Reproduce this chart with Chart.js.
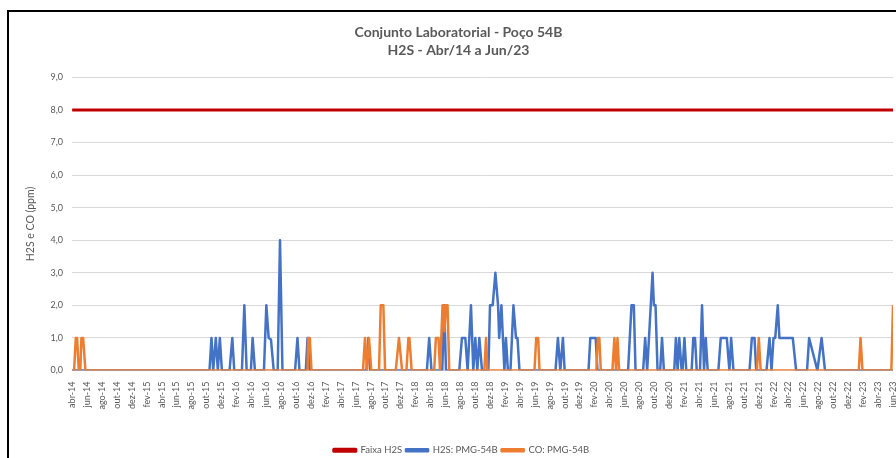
<!DOCTYPE html>
<html><head><meta charset="utf-8">
<script src="https://cdn.jsdelivr.net/npm/chart.js@4/dist/chart.umd.min.js"></script>
<style>
html,body{margin:0;padding:0;background:#fff;overflow:hidden;}
#wrap{position:absolute;left:0;top:0;width:896px;height:458px;}
#frame{position:absolute;left:7px;top:10px;width:900px;height:470px;border:2px solid #000;pointer-events:none;}
</style></head>
<body>
<div id="wrap"><canvas id="c" width="896" height="458"></canvas></div>
<div id="frame"></div>
<script>
// X axis: months since abr-14 (0 = abr-14, 110 = jun-23)
const tickLabels = ["abr-14","jun-14","ago-14","out-14","dez-14","fev-15","abr-15","jun-15","ago-15","out-15","dez-15","fev-16","abr-16","jun-16","ago-16","out-16","dez-16","fev-17","abr-17","jun-17","ago-17","out-17","dez-17","fev-18","abr-18","jun-18","ago-18","out-18","dez-18","fev-19","abr-19","jun-19","ago-19","out-19","dez-19","fev-20","abr-20","jun-20","ago-20","out-20","dez-20","fev-21","abr-21","jun-21","ago-21","out-21","dez-21","fev-22","abr-22","jun-22","ago-22","out-22","dez-22","fev-23","abr-23","jun-23"];

const limitMonths = [0, 110];
const limitValues = [8, 8];

const h2sMonths = [0,18.41,18.68,18.91,19.26,19.53,19.8,20.07,21.1,21.47,21.73,22.76,23.08,23.39,23.96,24.19,24.5,25.71,26.03,26.34,26.65,27.02,27.55,27.86,28.19,29.88,30.2,30.47,31.32,31.55,31.85,39.45,39.7,39.95,47.54,47.85,48.16,49.6,49.87,50.1,51.88,52.24,52.69,53.0,53.45,53.76,54.03,54.3,54.57,54.93,55.78,56.0,56.36,56.72,57.08,57.23,57.53,57.73,57.93,58.13,58.4,58.74,59.14,59.48,59.68,59.95,64.78,65.1,65.42,65.77,66.0,69.2,69.44,70.16,70.4,74.5,74.73,74.96,75.27,75.5,76.52,76.79,77.06,77.78,77.96,78.18,78.45,78.8,79.05,79.3,80.69,80.91,81.14,81.36,81.68,81.8,82.05,82.3,83.02,83.24,83.47,83.7,84.14,84.41,84.68,84.91,85.17,86.6,86.92,87.73,88.08,88.31,88.62,90.77,91.09,91.44,91.67,93.05,93.45,93.72,93.99,94.22,94.56,94.78,96.57,97.02,98.48,98.76,99.87,100.43,100.89,110];
const h2sValues = [0,0,1,0,1,0,1,0,0,1,0,0,2,0,0,1,0,0,2,1,0.95,0,0,4,0,0,1,0,0,1,0,0,1,0,0,1,0,0,2,0,0,1,1,0,2,0,1,0,1,0,0,2,2,3,2,1,2,1,0,1,0,0,2,1,1,0,0,1,0,1,0,0,1,1,0,0,1,2,2,0,0,1,0,3,2,2,0,0,1,0,0,1,0,1,0,0,1,0,0,1,1,0,0,2,0,1,0,0,1,1,0,1,0,0,1,1,0,0,1,0,1,1,2,1,1,0,0,1,0,1,0,0];

const coMonths = [0,0.27,0.5,0.67,0.9,1.1,1.25,1.48,1.79,31.55,31.63,31.85,32.08,38.98,39.25,39.52,39.78,40.09,41.13,41.36,41.71,41.94,43.37,43.8,44.22,44.8,45.07,45.2,45.5,48.52,48.75,49.1,49.3,49.37,49.64,49.77,49.9,50.09,50.31,50.54,55.24,55.47,55.65,61.96,62.19,62.46,62.63,70.25,70.45,70.65,70.85,72.4,72.67,72.89,73.08,73.3,91.76,92.02,92.27,105.42,105.65,105.91,109.78,110];
const coValues = [0,0,1,1,0,0,1,1,0,0,1,1,0,0,1,0,1,0,0,2,2,0,0,1,0,0,1,1,0,0,1,1,0,0,2,2,1.2,2,2,0,0,1,0,0,1,1,0,0,1,1,0,0,1,0,1,0,0,1,0,0,1,0,0,2];

const seriesNames = ["Faixa H2S","H2S: PMG-54B","CO: PMG-54B"];
const titleLines = ["Conjunto Laboratorial - Poço 54B","H2S - Abr/14 a Jun/23"];
const yTitle = "H2S e CO (ppm)";

const pts = (xs, ys) => xs.map((x, i) => ({x: x, y: ys[i]}));
const FONT = "Lato, 'Open Sans', sans-serif";
const GRAY = "#595959";

const legendTweak = {
  id: 'legendTweak',
  beforeInit(chart) {
    const lg = chart.legend;
    if (!lg) return;
    const fit0 = lg.fit;
    lg.fit = function () { fit0.apply(this, arguments); this.height -= 7; };
    const draw0 = lg.draw;
    lg.draw = function () {
      const l = this.left, r = this.right;
      this.left = l + 3; this.right = r + 3;
      draw0.apply(this, arguments);
      this.left = l; this.right = r;
    };
  }
};

new Chart(document.getElementById('c'), {
  type: 'line',
  plugins: [legendTweak],
  data: {
    datasets: [
      {label: seriesNames[0], data: pts(limitMonths, limitValues), borderColor: '#c00000', backgroundColor: '#c00000', borderWidth: 3, order: 0},
      {label: seriesNames[1], data: pts(h2sMonths, h2sValues), borderColor: '#4472c4', backgroundColor: '#4472c4', borderWidth: 2.5, order: 2},
      {label: seriesNames[2], data: pts(coMonths, coValues), borderColor: '#ed7d31', backgroundColor: '#ed7d31', borderWidth: 2.5, order: 1}
    ]
  },
  options: {
    responsive: false,
    animation: false,
    elements: {point: {radius: 0}, line: {tension: 0, borderJoinStyle: 'round', borderCapStyle: 'butt'}},
    layout: {padding: {left: 24, right: 3, top: 19, bottom: 0}},
    plugins: {
      tooltip: {enabled: false},
      title: {display: true, text: titleLines, color: GRAY, font: {family: FONT, size: 14, weight: 'bold', lineHeight: 1.3}, padding: {top: 4, bottom: 18}},
      legend: {
        position: 'bottom',
        labels: {
          color: GRAY, font: {family: FONT, size: 9.5}, boxWidth: 22, boxHeight: 2, padding: 4,
          sort: (a, b) => a.datasetIndex - b.datasetIndex
        }
      }
    },
    scales: {
      x: {
        type: 'linear', min: 0, max: 110,
        grid: {display: false},
        border: {display: false},
        ticks: {
          stepSize: 2, autoSkip: false, maxRotation: 90, minRotation: 90,
          color: GRAY, font: {family: FONT, size: 9}, padding: 3,
          callback: (v) => tickLabels[Math.round(v / 2)]
        },
        afterBuildTicks: (axis) => { axis.ticks = tickLabels.map((_, i) => ({value: i * 2})); },
        afterFit: (axis) => { axis.paddingRight = 0; axis.paddingLeft = 0; axis.height = 71; }
      },
      y: {
        min: 0, max: 9,
        grid: {color: '#d9d9d9', drawTicks: false},
        border: {display: false},
        ticks: {stepSize: 1, color: GRAY, font: {family: FONT, size: 9}, padding: 9,
          callback: (v) => v.toFixed(1).replace('.', ',')},
        title: {display: true, text: yTitle, color: GRAY, font: {family: FONT, size: 10.5}, padding: {top: 0, bottom: 5}}
      }
    }
  }
});
</script>
</body></html>
